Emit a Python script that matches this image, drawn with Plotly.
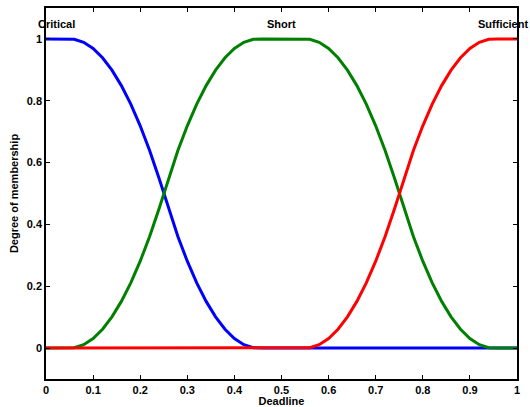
import plotly.graph_objects as go

x = [0.00, 0.02, 0.04, 0.06, 0.08, 0.10, 0.12, 0.14, 0.16, 0.18,
     0.20, 0.22, 0.24, 0.26, 0.28, 0.30, 0.32, 0.34, 0.36, 0.38,
     0.40, 0.42, 0.44, 0.46, 0.48, 0.50, 0.52, 0.54, 0.56, 0.58,
     0.60, 0.62, 0.64, 0.66, 0.68, 0.70, 0.72, 0.74, 0.76, 0.78,
     0.80, 0.82, 0.84, 0.86, 0.88, 0.90, 0.92, 0.94, 0.96, 0.98, 1.00]

critical = [1, 1, 1, 0.999, 0.989, 0.969, 0.939, 0.899, 0.849, 0.789,
            0.719, 0.639, 0.549, 0.451, 0.361, 0.281, 0.211, 0.151, 0.101, 0.061,
            0.031, 0.011, 0.001, 0, 0, 0, 0, 0, 0, 0,
            0, 0, 0, 0, 0, 0, 0, 0, 0, 0,
            0, 0, 0, 0, 0, 0, 0, 0, 0, 0, 0]

short = [0, 0, 0, 0.001, 0.011, 0.031, 0.061, 0.101, 0.151, 0.211,
         0.281, 0.361, 0.451, 0.549, 0.639, 0.719, 0.789, 0.849, 0.899, 0.939,
         0.969, 0.989, 0.999, 1, 1, 1, 1, 1, 0.999, 0.989,
         0.969, 0.939, 0.899, 0.849, 0.789, 0.719, 0.639, 0.549, 0.451, 0.361,
         0.281, 0.211, 0.151, 0.101, 0.061, 0.031, 0.011, 0.001, 0, 0, 0]

sufficient = [0, 0, 0, 0, 0, 0, 0, 0, 0, 0,
              0, 0, 0, 0, 0, 0, 0, 0, 0, 0,
              0, 0, 0, 0, 0, 0, 0, 0, 0.001, 0.011,
              0.031, 0.061, 0.101, 0.151, 0.211, 0.281, 0.361, 0.451, 0.549, 0.639,
              0.719, 0.789, 0.849, 0.899, 0.939, 0.969, 0.989, 0.999, 1, 1, 1]

labels = ["Critical", "Short", "Sufficient"]
label_x = [0.022, 0.5, 0.97]
label_y = [1.048, 1.048, 1.048]
colors = ["#0000ff", "#008000", "#ff0000"]
series = [critical, short, sufficient]

fig = go.Figure()
for s, c, name in zip(series, colors, labels):
    fig.add_trace(go.Scatter(x=x, y=s, mode="lines", name=name,
                             line=dict(color=c, width=3), showlegend=False))

for t, lx, ly in zip(labels, label_x, label_y):
    fig.add_annotation(x=lx, y=ly, xref="x", yref="y", text=t, showarrow=False,
                       font=dict(family="Liberation Sans", size=11, color="black", weight="bold"))

axis_common = dict(
    showline=True, linecolor="black", linewidth=1.5, mirror="allticks",
    ticks="inside", ticklen=4, tickwidth=1, tickcolor="black",
    showgrid=False, zeroline=False, automargin=False,
    tickfont=dict(family="Liberation Sans", size=11, color="black", weight="bold"),
)

fig.update_xaxes(range=[0, 1], dtick=0.1, tick0=0,
                 title=dict(text="Deadline", standoff=10,
                            font=dict(family="Liberation Sans", size=11, color="black", weight="bold")),
                 **axis_common)
fig.update_yaxes(range=[-0.1, 1.1], dtick=0.2, tick0=0,
                 title=dict(text="Degree of membership", standoff=6,
                            font=dict(family="Liberation Sans", size=11, color="black", weight="bold")),
                 **axis_common)

fig.update_layout(width=530, height=407, margin=dict(l=46, r=13, t=8, b=28),
                  plot_bgcolor="white", paper_bgcolor="white")

fig.write_html("out.html")
